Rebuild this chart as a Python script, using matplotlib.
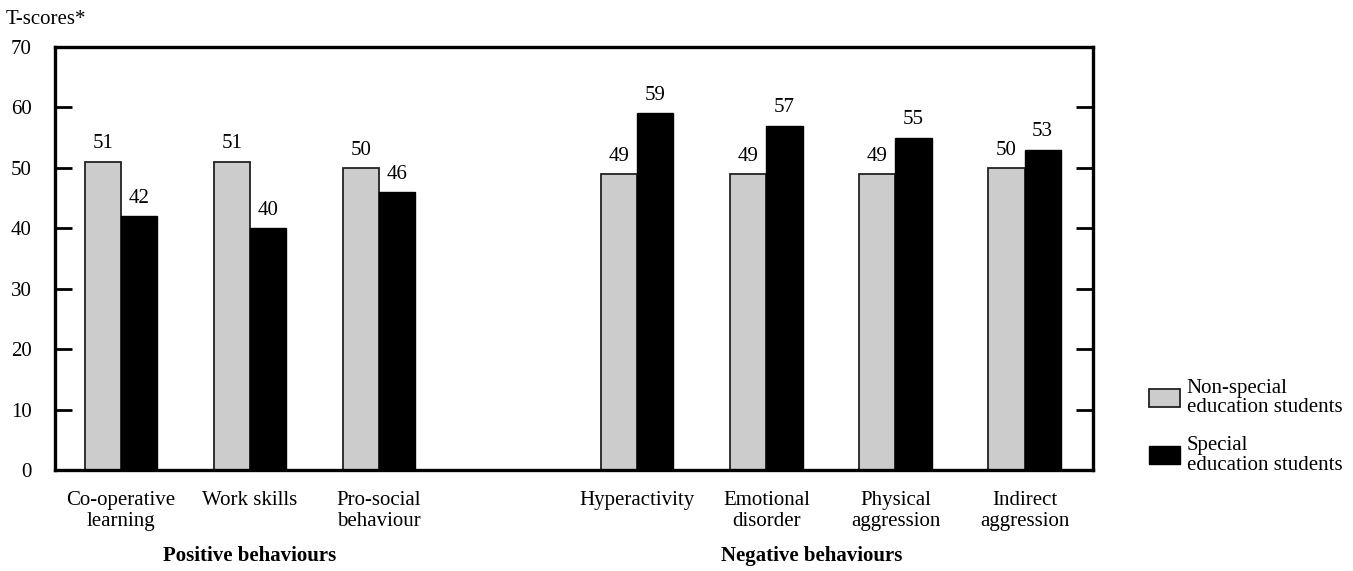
import matplotlib
matplotlib.use('Agg')
import matplotlib.pyplot as plt
import matplotlib.transforms as mtransforms
import numpy

matplotlib.rcParams.update({
    'font.family': ['Liberation Serif', 'DejaVu Serif'],
    'font.size': 15,
})

categories = ['Co-operative\nlearning', 'Work skills', 'Pro-social\nbehaviour',
              'Hyperactivity', 'Emotional\ndisorder', 'Physical\naggression',
              'Indirect\naggression']
slots = [0, 1, 2, 4, 5, 6, 7]
non_special = [51, 51, 50, 49, 49, 49, 50]
special = [42, 40, 46, 59, 57, 55, 53]
groups = ['Positive behaviours', 'Negative behaviours']
group_centres = [1, 5.35]

fig = plt.figure(figsize=(13.53, 5.71), dpi=100)
ax = fig.add_axes([0.0407, 0.1769, 0.7671, 0.7408])

x = numpy.array(slots, dtype=float)
width = 0.28
b1 = ax.bar(x - width / 2, non_special, width, color='#cccccc',
            edgecolor='#222222', linewidth=1.3,
            label='Non-special\neducation students')
b2 = ax.bar(x + width / 2, special, width, color='black',
            edgecolor='black', linewidth=1.0,
            label='Special\neducation students')

for bars in (b1, b2):
    for rect in bars:
        h = rect.get_height()
        ax.annotate(f'{h:.0f}', (rect.get_x() + rect.get_width() / 2, h),
                    xytext=(0, 6), textcoords='offset points',
                    ha='center', va='bottom', fontsize=15)

ax.set_xlim(-0.51, 7.53)
ax.set_ylim(0, 70)
ax.set_yticks(range(0, 71, 10))
ax.set_xticks(x)
ax.set_xticklabels(categories, fontsize=15, linespacing=1.15)
ax.tick_params(axis='x', length=0, pad=15)
ax.tick_params(axis='y', direction='in', length=12, width=2.0,
               right=True, pad=17, labelsize=15)
for sp in ax.spines.values():
    sp.set_linewidth(2.4)

trans = mtransforms.blended_transform_factory(ax.transData, ax.transAxes)
for name, cx in zip(groups, group_centres):
    ax.text(cx, -0.18, name, transform=trans, ha='center', va='top',
            fontsize=15, fontweight='bold')

fig.text(0.004, 0.983, 'T-scores*', ha='left', va='top', fontsize=15)

leg = fig.legend(handles=[b1, b2], loc='upper left',
                 bbox_to_anchor=(0.8416, 0.355), frameon=False,
                 fontsize=15, handlelength=1.5, handleheight=0.95,
                 handletextpad=0.3, labelspacing=0.9, borderpad=0)
for t in leg.get_texts():
    t.set_linespacing(1.05)

fig.savefig('out.png', dpi=100)
plt.close()
